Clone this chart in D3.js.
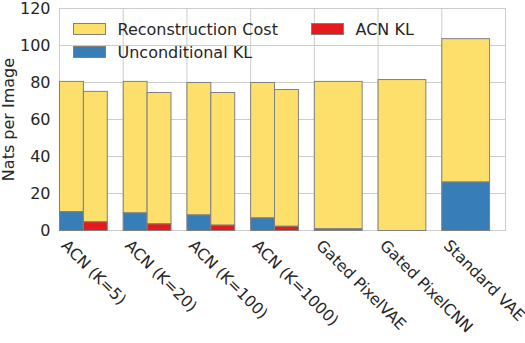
<!DOCTYPE html>
<html>
<head>
<meta charset="utf-8">
<script src="https://cdn.jsdelivr.net/npm/d3@7"></script>
<style>
  body { margin: 0; background: #fff; }
  svg text { font-family: "DejaVu Sans"; }
</style>
</head>
<body>
<div class="chart"></div>
<script>
// categories along x
var categories = ["ACN (K=5)", "ACN (K=20)", "ACN (K=100)", "ACN (K=1000)",
                  "Gated PixelVAE", "Gated PixelCNN", "Standard VAE"];

// left bar of each group: unconditional KL + reconstruction
var uncondKL   = [10.2, 9.5, 8.4, 6.8, 0.9, 0, 26.2];
var uncondRecon = [70.4, 71.1, 71.6, 73.2, 79.7, 81.6, 77.5];

// right bar (ACN only): ACN KL + reconstruction
var acnKL    = [4.7, 3.6, 2.9, 2.3];
var acnRecon = [70.5, 71.0, 71.7, 73.9];

var yTicks = [0, 20, 40, 60, 80, 100, 120];

var legendItems = [
  { label: "Reconstruction Cost", color: "#fde06b" },
  { label: "Unconditional KL", color: "#377eb8" },
  { label: "ACN KL", color: "#e41a1c" }
];

(function(){
  var W = 525, H = 343;
  var margin = { left: 59.5, right: 19.5, top: 8.5, bottom: 112.5 };
  var innerW = W - margin.left - margin.right;
  var innerH = H - margin.top - margin.bottom;
  var colRecon = "#fde06b", colUncond = "#377eb8", colAcn = "#e41a1c";
  var edge = "#808080", grid = "#cccccc", ink = "#262626";
  var font = "DejaVu Sans";

  var svg = d3.select(".chart").append("svg")
      .attr("width", W).attr("height", H);
  var g = svg.append("g").attr("transform", "translate(" + margin.left + "," + margin.top + ")");

  // band per category, bars start at the band's left edge
  var x = d3.scaleBand().domain(categories).range([0, innerW]).padding(0);
  var y = d3.scaleLinear().domain([0, 120]).range([innerH, 0]);
  var barW = x.bandwidth() * 0.75;
  var half = barW / 2;

  // horizontal grid
  g.selectAll("line.hgrid").data(yTicks).enter().append("line")
    .attr("x1", 0).attr("x2", innerW)
    .attr("y1", function(d){ return y(d); })
    .attr("y2", function(d){ return y(d); })
    .attr("stroke", grid).attr("stroke-width", 1);

  // vertical grid at tick positions (left edge of each group)
  g.selectAll("line.vgrid").data(categories).enter().append("line")
    .attr("x1", function(d){ return x(d); }).attr("x2", function(d){ return x(d); })
    .attr("y1", 0).attr("y2", innerH)
    .attr("stroke", grid).attr("stroke-width", 1);

  // frame
  g.append("rect").attr("x", 0).attr("y", 0).attr("width", innerW).attr("height", innerH)
    .attr("fill", "none").attr("stroke", grid).attr("stroke-width", 1);

  // legend (no frame)
  var leg = g.append("g").attr("class", "legend");
  var legPos = [
    { x: 14, y: 15 },
    { x: 14, y: 38 },
    { x: 252, y: 15 }
  ];
  legendItems.forEach(function(it, i){
    var p = legPos[i];
    leg.append("rect").attr("x", p.x).attr("y", p.y).attr("width", 32).attr("height", 11)
      .attr("fill", it.color).attr("stroke", edge).attr("stroke-width", 1);
    leg.append("text").attr("x", p.x + 44).attr("y", p.y + 5.5).attr("dy", "0.35em")
      .style("font-family", font).style("font-size", "16px").attr("fill", ink).text(it.label);
  });

  var left = categories.map(function(c, i){
    var w = i < acnKL.length ? half : barW;
    return { cat: c, kl: uncondKL[i], recon: uncondRecon[i], x: x(c), w: w };
  });
  var right = acnKL.map(function(k, i){
    return { cat: categories[i], kl: k, recon: acnRecon[i], x: x(categories[i]) + half, w: half };
  });

  function drawStack(data, klColor) {
    var sel = g.append("g").selectAll("g").data(data).enter().append("g");
    sel.append("rect")
      .attr("x", function(d){ return d.x; })
      .attr("y", function(d){ return y(d.kl + d.recon); })
      .attr("width", function(d){ return d.w; })
      .attr("height", function(d){ return y(d.kl) - y(d.kl + d.recon); })
      .attr("fill", colRecon).attr("stroke", edge).attr("stroke-width", 1);
    sel.filter(function(d){ return d.kl > 0; }).append("rect")
      .attr("x", function(d){ return d.x; })
      .attr("y", function(d){ return y(d.kl); })
      .attr("width", function(d){ return d.w; })
      .attr("height", function(d){ return y(0) - y(d.kl); })
      .attr("fill", klColor).attr("stroke", edge).attr("stroke-width", 1);
  }
  drawStack(left, colUncond);
  drawStack(right, colAcn);

  // y axis labels
  var yAxis = d3.axisLeft(y).tickValues(yTicks).tickSize(0).tickPadding(9);
  var ya = g.append("g").call(yAxis);
  ya.select(".domain").remove();
  ya.attr("font-family", null).attr("font-size", null);
  ya.selectAll("text").style("font-family", font).style("font-size", "16px").attr("fill", ink);

  // x axis labels, rotated, anchored at each tick
  g.selectAll("text.xlab").data(categories).enter().append("text")
    .attr("class", "xlab")
    .attr("transform", function(d){ return "translate(" + (x(d) + 1) + "," + (innerH + 16) + ") rotate(45)"; })
    .style("font-family", font).style("font-size", "15.7px").attr("fill", ink)
    .text(function(d){ return d; });

  // y label
  svg.append("text")
    .attr("transform", "translate(13.5," + (margin.top + innerH / 2) + ") rotate(-90)")
    .attr("text-anchor", "middle")
    .style("font-family", font).style("font-size", "16px").attr("fill", ink)
    .text("Nats per Image");
})();
</script>
</body>
</html>
